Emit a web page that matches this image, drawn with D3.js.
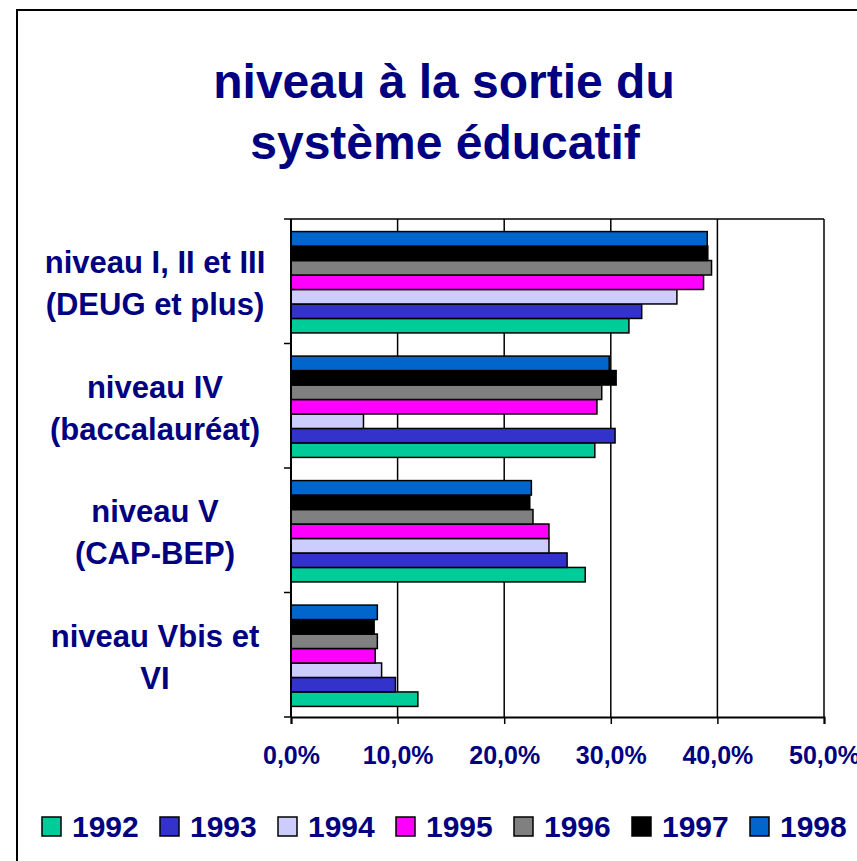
<!DOCTYPE html>
<html>
<head>
<meta charset="utf-8">
<script src="https://cdn.jsdelivr.net/npm/d3@7"></script>
<style>
  body { margin: 0; background: #fff; }
  text { font-family: "Liberation Sans", Arial, sans-serif; font-weight: bold; fill: #000080; }
</style>
</head>
<body>
<div id="chart"></div>
<script>
let w = 857;
let h = 861;

// data
let categories = ["niveau I, II et III|(DEUG et plus)", "niveau IV|(baccalauréat)", "niveau V|(CAP-BEP)", "niveau Vbis et|VI"];
let years = ["1992", "1993", "1994", "1995", "1996", "1997", "1998"];
let colors = ["#00CC99", "#3333CC", "#CCCCFF", "#FF00FF", "#808080", "#000000", "#0066CC"];
let v1992 = [31.7, 28.5, 27.6, 11.9];
let v1993 = [32.9, 30.4, 25.9, 9.8];
let v1994 = [36.2, 6.8, 24.2, 8.5];
let v1995 = [38.7, 28.7, 24.2, 7.9];
let v1996 = [39.45, 29.15, 22.7, 8.1];
let v1997 = [39.1, 30.5, 22.4, 7.8];
let v1998 = [39.05, 29.85, 22.55, 8.1];
let series = [v1992, v1993, v1994, v1995, v1996, v1997, v1998];
let xTicks = [0, 10, 20, 30, 40, 50];

let svg = d3.select("#chart").append("svg")
  .attr("width", w)
  .attr("height", h);

// outer frame (right and bottom edges are cut off)
svg.append("rect")
  .attr("x", 17).attr("y", 10)
  .attr("width", 900).attr("height", 900)
  .attr("fill", "none").attr("stroke", "#000").attr("stroke-width", 2);

// title
svg.append("text").attr("x", 444).attr("y", 98).attr("text-anchor", "middle")
  .style("font-size", "48px").text("niveau à la sortie du");
svg.append("text").attr("x", 445).attr("y", 159).attr("text-anchor", "middle")
  .style("font-size", "48px").text("système éducatif");

let pLeft = 291, pRight = 824, pTop = 219, pBottom = 717;

let xScale = d3.scaleLinear().domain([0, 50]).range([pLeft, pRight]);
let yScale = d3.scaleBand().domain(categories).range([pTop, pBottom]);
// 1998 on top, 1992 at the bottom of each group
let inner = d3.scaleBand().domain(years.slice().reverse())
  .range([0, yScale.bandwidth()]).paddingOuter(0.8).paddingInner(0);

// gridlines
svg.selectAll(".grid").data(xTicks.slice(1)).enter()
  .append("line")
  .attr("x1", d => xScale(d)).attr("x2", d => xScale(d))
  .attr("y1", pTop).attr("y2", pBottom)
  .attr("stroke", "#000").attr("stroke-width", 1.5);

// top border of the plot area
svg.append("line").attr("x1", pLeft).attr("x2", pRight).attr("y1", pTop).attr("y2", pTop)
  .attr("stroke", "#000").attr("stroke-width", 1.5);

// bars
years.forEach((yr, i) => {
  svg.selectAll(".bar" + yr).data(series[i]).enter()
    .append("rect")
    .attr("x", xScale(0))
    .attr("y", (d, j) => yScale(categories[j]) + inner(yr) + 1)
    .attr("width", d => xScale(d) - xScale(0))
    .attr("height", inner.bandwidth())
    .attr("fill", colors[i])
    .attr("stroke", "#000").attr("stroke-width", 1.5);
});

// x axis
let xAxis = d3.axisBottom(xScale).tickValues(xTicks).tickSize(7).tickPadding(22)
  .tickFormat(d => d.toFixed(1).replace(".", ",") + "%");
let xg = svg.append("g").attr("transform", "translate(0," + pBottom + ")").call(xAxis);
xg.select(".domain").attr("stroke", "#000").attr("stroke-width", 2);
xg.selectAll(".tick line").attr("stroke", "#000").attr("stroke-width", 1.5);
xg.selectAll(".tick text").style("font-size", "25px").attr("fill", "#000080")
  .style("font-family", "'Liberation Sans', Arial, sans-serif").style("font-weight", "bold");

// y axis line and ticks at the group borders
svg.append("line").attr("x1", pLeft).attr("x2", pLeft).attr("y1", pTop).attr("y2", pBottom)
  .attr("stroke", "#000").attr("stroke-width", 2);
svg.selectAll(".ytick").data(categories.concat(["end"])).enter()
  .append("line")
  .attr("x1", pLeft - 7).attr("x2", pLeft)
  .attr("y1", (d, i) => pTop + i * yScale.step())
  .attr("y2", (d, i) => pTop + i * yScale.step())
  .attr("stroke", "#000").attr("stroke-width", 1.5);

// category labels, two lines each
categories.forEach(c => {
  let lines = c.split("|");
  let cy = yScale(c) + yScale.bandwidth() / 2;
  lines.forEach((l, k) => {
    svg.append("text").attr("x", 155).attr("y", cy - 8 + k * 42)
      .attr("text-anchor", "middle").style("font-size", "31px").text(l);
  });
});

// legend
let legendX = d3.scaleBand().domain(years).range([42, 42 + 118 * 7]);
let lg = svg.selectAll(".legend").data(years).enter().append("g")
  .attr("transform", d => "translate(" + legendX(d) + ",817)");
lg.append("rect").attr("width", 19).attr("height", 19)
  .attr("fill", (d, i) => colors[i]).attr("stroke", "#000").attr("stroke-width", 1.5);
lg.append("text").attr("x", 30).attr("y", 20).style("font-size", "30px").text(d => d);
</script>
</body>
</html>
